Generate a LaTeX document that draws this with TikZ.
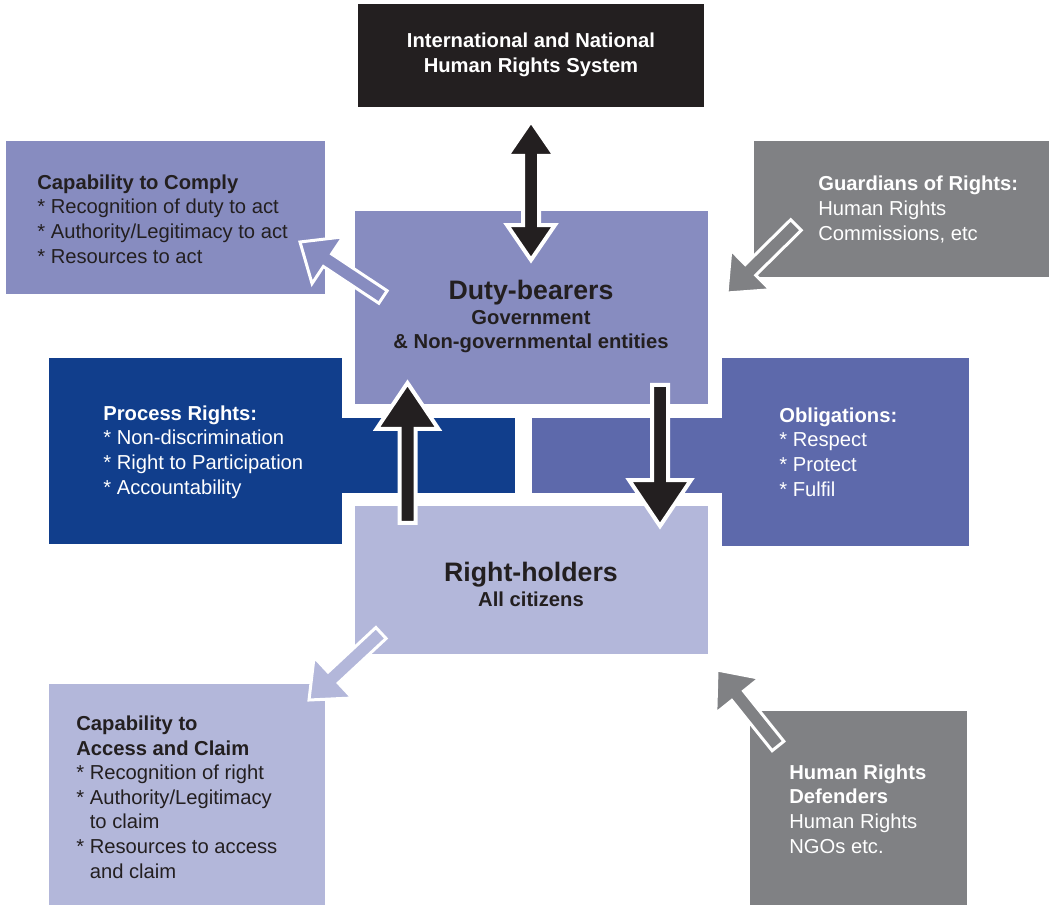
\documentclass[tikz,border=0pt]{standalone}
\usepackage{fontspec}
\setmainfont{Liberation Sans}
\usetikzlibrary{calc}
\definecolor{darkc}{HTML}{231F20}
\definecolor{dutyc}{HTML}{878CC0}
\definecolor{procc}{HTML}{113E8C}
\definecolor{oblc}{HTML}{5D69AB}
\definecolor{holdc}{HTML}{B3B7DA}
\definecolor{grayc}{HTML}{808184}
\tikzset{
    box/.style={fill=#1,inner sep=0pt,outer sep=0pt},
    txt/.style={inner sep=0pt,align=left,anchor=west,text=darkc,font=\fontsize{11.5}{14}\selectfont},
    ctxt/.style={inner sep=0pt,align=center,text=darkc,font=\bfseries\fontsize{11.5}{14.2}\selectfont},
    blk/.style={fill=darkc,draw=white,line width=0.08cm},
    hollow/.style={fill=#1,draw=white,line width=0.06cm}
}
\newcommand\blockarrow[6]{%
    \coordinate (hb) at ($(#3)!#6!(#2)$);
    \path[#1] ($(#2)!#4!90:(#3)$) -- ($(hb)!#4!90:(#3)$) -- ($(hb)!#5!90:(#3)$) -- (#3)
        -- ($(hb)!#5!-90:(#3)$) -- ($(hb)!#4!-90:(#3)$) -- ($(#2)!#4!-90:(#3)$) -- cycle;}
\newcommand\dblarrow[6]{%
    \coordinate (ha) at ($(#2)!#6!(#3)$);
    \coordinate (hb) at ($(#3)!#6!(#2)$);
    \path[#1] (#2) -- ($(ha)!#5!-90:(#3)$) -- ($(ha)!#4!-90:(#3)$) -- ($(hb)!#4!-90:(#3)$)
        -- ($(hb)!#5!-90:(#3)$) -- (#3) -- ($(hb)!#5!90:(#3)$) -- ($(hb)!#4!90:(#3)$)
        -- ($(ha)!#4!90:(#3)$) -- ($(ha)!#5!90:(#3)$) -- cycle;}
\begin{document}
\begin{tikzpicture}[x=0.02cm,y=-0.02cm]
\useasboundingbox (0,0) rectangle (1049,905);

\node[box=darkc,minimum width=6.92cm,minimum height=2.06cm] (top) at (531,55.5) {};
\node[box=dutyc,minimum width=6.38cm,minimum height=3.06cm] (comply) at (165.5,217.5) {};
\node[box=dutyc,minimum width=7.06cm,minimum height=3.86cm] (duty) at (531.5,307.5) {};
\node[box=grayc,minimum width=5.9cm,minimum height=2.72cm] (guard) at (901.5,209) {};
\node[box=procc,minimum width=5.86cm,minimum height=3.72cm] (proc) at (195.5,451) {};
\node[box=procc,minimum width=3.5cm,minimum height=1.5cm] (procband) at (427.5,455.5) {};
\node[box=oblc,minimum width=4.94cm,minimum height=3.76cm] (obl) at (845.5,452) {};
\node[box=oblc,minimum width=3.84cm,minimum height=1.5cm] (oblband) at (628,455.5) {};
\node[box=holdc,minimum width=7.06cm,minimum height=2.96cm] (hold) at (531.5,580) {};
\node[box=holdc,minimum width=5.52cm,minimum height=4.42cm] (access) at (187,794.5) {};
\node[box=grayc,minimum width=4.34cm,minimum height=3.88cm] (defend) at (858.5,808) {};

\node[ctxt,text=white] (topT) at (531,55) {International and National\\Human Rights System};
\node[ctxt] (dutyT) at (531,316.5) {{\fontsize{15.2}{14.2}\selectfont Duty-bearers}\\Government\\\& Non-governmental entities};
\node[ctxt] (holdT) at (531,584) {{\fontsize{15.2}{14.2}\selectfont Right-holders}\\All citizens};
\node[txt] (complyT) at (37,219) {\textbf{Capability to Comply}\\* Recognition of duty to act\\* Authority/Legitimacy to act\\* Resources to act};
\node[txt,text=white] (guardT) at (818,209.5) {\textbf{Guardians of Rights:}\\Human Rights\\Commissions, etc};
\node[txt,text=white] (procT) at (103,452) {\textbf{Process Rights:}\\* Non-discrimination\\* Right to Participation\\* Accountability};
\node[txt,text=white] (oblT) at (779,452) {\textbf{Obligations:}\\* Respect\\* Protect\\* Fulfil};
\node[txt] (accessT) at (76,797) {\textbf{Capability to}\\\textbf{Access and Claim}\\* Recognition of right\\* Authority/Legitimacy\\\hphantom{*} to claim\\* Resources to access\\\hphantom{*} and claim};
\node[txt,text=white] (defendT) at (789,809) {\textbf{Human Rights}\\\textbf{Defenders}\\Human Rights\\NGOs etc.};

\coordinate (dblA) at (531,121);
\coordinate (dblB) at (531,260);
\coordinate (upA) at (407.5,523);
\coordinate (upB) at (407.5,383);
\coordinate (downA) at (660,385);
\coordinate (downB) at (660,526);
\coordinate (complyA) at (383,297);
\coordinate (complyB) at (300,242);
\coordinate (guardA) at (796,225);
\coordinate (guardB) at (727,293);
\coordinate (accessA) at (381,633);
\coordinate (accessB) at (309,700);
\coordinate (defendA) at (778,746);
\coordinate (defendB) at (717,670);

\foreach \a/\b/\c in {complyA/complyB/dutyc,guardA/guardB/grayc,accessA/accessB/holdc,defendA/defendB/grayc}
{
    \blockarrow{hollow=\c}{\a}{\b}{0.15cm}{0.56cm}{0.66cm}
}
\dblarrow{blk}{dblA}{dblB}{0.16cm}{0.48cm}{0.7cm}
\blockarrow{blk}{upA}{upB}{0.16cm}{0.62cm}{0.92cm}
\blockarrow{blk}{downA}{downB}{0.16cm}{0.62cm}{0.92cm}
\end{tikzpicture}
\end{document}
